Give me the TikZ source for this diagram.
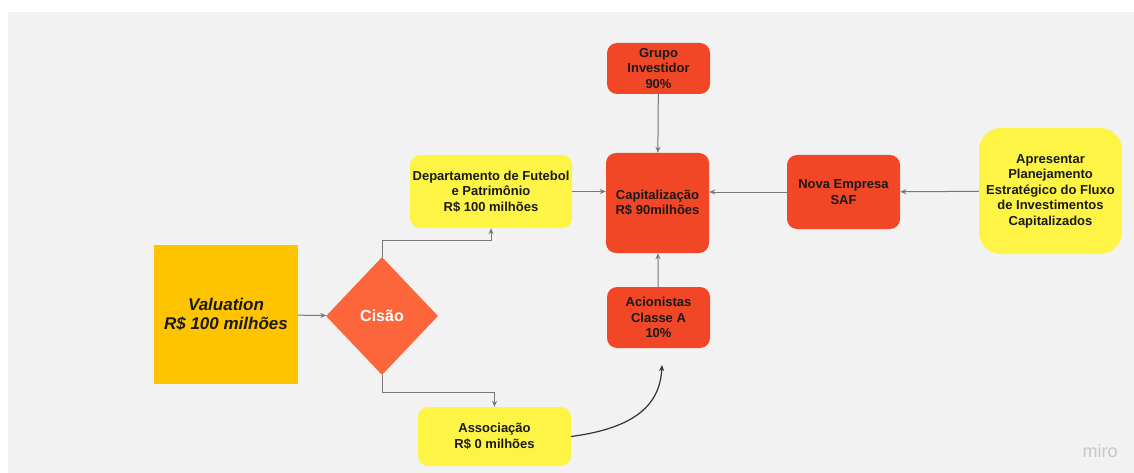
\documentclass[tikz,border=0pt]{standalone}
\usepackage{fontspec}
\setmainfont{Liberation Sans}
\usetikzlibrary{arrows.meta,shapes.geometric}
\definecolor{miroYellow}{RGB}{254,244,69}
\definecolor{miroRed}{RGB}{242,71,38}
\definecolor{miroOrange}{RGB}{252,102,58}
\definecolor{valGold}{RGB}{255,196,0}
\definecolor{boardGray}{RGB}{242,242,242}
\definecolor{lineGray}{RGB}{120,120,120}
\definecolor{inkDark}{RGB}{26,26,26}
\begin{document}
\begin{tikzpicture}[
		x=1pt, y=-1pt,
		>={Stealth[length=6pt,width=5pt]},
		box/.style={rectangle, rounded corners=10pt, align=center, inner sep=2pt,
			font=\bfseries\fontsize{13}{15.5}\selectfont, text=inkDark},
		yellowbox/.style={box, fill=miroYellow},
		redbox/.style={box, fill=miroRed},
		link/.style={->, line width=1pt, lineGray},
		bend link/.style={->, line width=1.2pt, black!80}
	]
	\useasboundingbox (0,0) rectangle (1134,473);
	\fill[white] (0,0) rectangle (1134,473);
	\fill[boardGray] (8,12) rectangle (1134,473);
	
	\node[rectangle, fill=valGold, minimum width=144pt, minimum height=139pt, align=center,
		font=\bfseries\itshape\fontsize{17}{19.5}\selectfont, text=inkDark]
		(valuation) at (226,314.5) {Valuation\\R\$ 100 milhões};
	\node[diamond, fill=miroOrange, inner sep=0pt, minimum width=112pt, minimum height=118pt,
		font=\bfseries\fontsize{16}{18}\selectfont, text=white]
		(cisao) at (382,316) {Cisão};
	
	\node[yellowbox, minimum width=162pt, minimum height=73pt] (depto) at (491,191.5)
		{Departamento de Futebol\\e Patrimônio\\R\$ 100 milhões};
	\node[yellowbox, minimum width=153pt, minimum height=59pt] (assoc) at (494.5,436.5)
		{Associação\\R\$ 0 milhões};
	\node[redbox, minimum width=103pt, minimum height=100pt] (capital) at (657.5,203)
		{Capitalização\\R\$ 90milhões};
	\node[redbox, minimum width=103pt, minimum height=51pt] (grupo) at (658.5,68.5)
		{Grupo\\Investidor\\90\%};
	\node[redbox, minimum width=103pt, minimum height=61pt] (acionistas) at (658.5,317.5)
		{Acionistas\\Classe A\\10\%};
	\node[redbox, minimum width=113pt, minimum height=74pt] (saf) at (843.5,192)
		{Nova Empresa\\SAF};
	\node[yellowbox, rounded corners=22pt, minimum width=143pt, minimum height=126pt] (plano) at (1050.5,191)
		{Apresentar\\Planejamento\\Estratégico do Fluxo\\de Investimentos\\Capitalizados};
	
	\node[font=\fontsize{18}{20}\selectfont, text=black!22] (miro) at (1100,451) {miro};
	
	\coordinate (acEnd) at (662,365);
	
	\draw[link] (valuation) -- (cisao);
	\draw[link] (cisao.north) -- ++(0,-16) -| (depto.south);
	\draw[link] (cisao.south) -- ++(0,17) -| (assoc.north);
	\draw[link] (depto.east) -- (depto.east -| capital.west);
	\draw[link] (grupo) -- (capital);
	\draw[link] (acionistas) -- (capital);
	\draw[link] (saf.west) -- (saf.west -| capital.east);
	\draw[link] (plano) -- (saf);
	\draw[bend link] (assoc.east) .. controls (635,428) and (660,405) .. (acEnd);
\end{tikzpicture}
\end{document}
